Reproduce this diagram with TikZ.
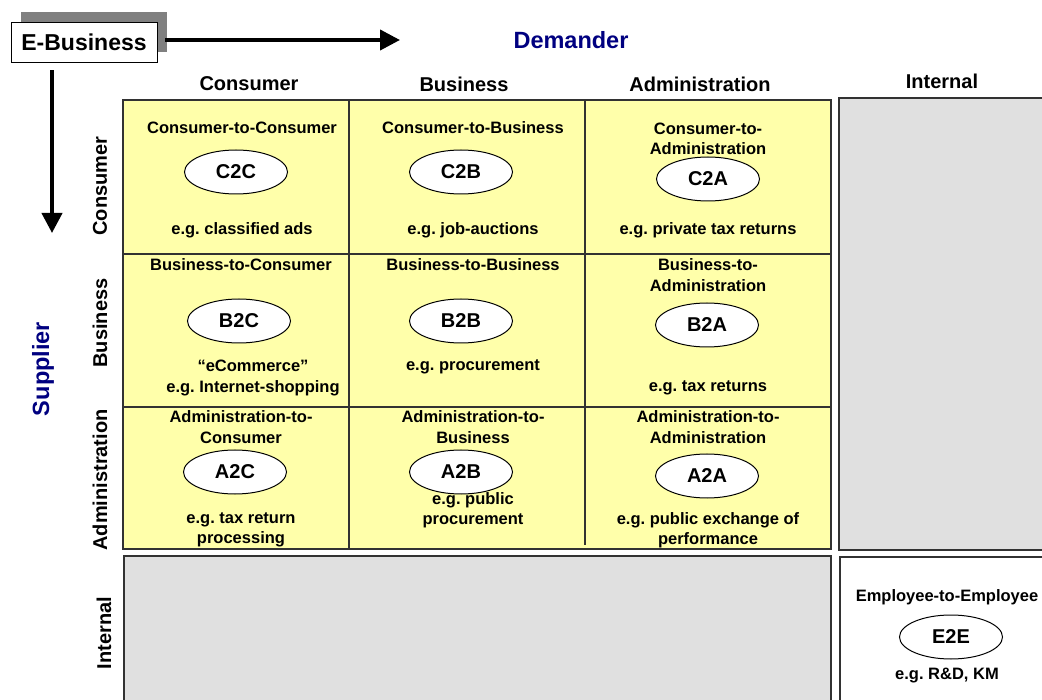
\documentclass[tikz,border=0pt]{standalone}
\usepackage{fontspec}
\setmainfont{Liberation Sans}
\usetikzlibrary{arrows.meta,positioning,shapes.geometric}
\definecolor{cellyellow}{RGB}{255,255,170}
\definecolor{panelgray}{RGB}{224,224,224}
\definecolor{shadowgray}{RGB}{128,128,128}
\definecolor{navy}{RGB}{0,0,128}
\definecolor{rule}{RGB}{50,50,50}
\frenchspacing

\begin{document}
\begin{tikzpicture}[>={Triangle[length=20pt,width=20pt]},x=1pt,y=-1pt,
  hdr/.style={font=\fontsize{20}{24}\selectfont\bfseries,inner sep=0pt},
  axis/.style={font=\fontsize{23.5}{28}\selectfont\bfseries,text=navy,inner sep=0pt},
  ttl/.style={font=\fontsize{16.5}{20.5}\selectfont\bfseries,align=center,inner sep=0pt},
  abbr/.style={draw,line width=1pt,ellipse,fill=white,minimum width=103pt,
               minimum height=44pt,inner sep=0pt,font=\fontsize{20}{24}\selectfont\bfseries},
  grd/.style={draw=rule,line width=1.3pt},
  pnl/.style={grd,fill=panelgray}]
\useasboundingbox (0,0) rectangle (1042,700);
\clip (0,0) rectangle (1042,700);
% title box and the two axes
\fill[shadowgray] (21,12) rectangle (167,52);
\node[draw,fill=white,minimum width=146pt,minimum height=40pt,inner sep=0pt,
      font=\fontsize{23}{27}\selectfont\bfseries] (eb) at (84,42) {E-Business};
\coordinate (dmd) at (400,40);
\coordinate (sup) at (52,233);
\draw[->,line width=4pt] ([xshift=8pt]eb.east |- dmd) -- (dmd);
\draw[->,line width=4pt] ([yshift=-8pt]eb.south -| sup) -- (sup);
\node[axis] (demander) at (571,40) {Demander};
\node[axis,rotate=90] (supplier) at (43,369) {Supplier};
% column heads
\node[hdr] (hC) at (249,84) {Consumer};
\node[hdr] (hB) at (464,84) {Business};
\node[hdr] (hA) at (700,84) {Administration};
\node[hdr] (hI) at (942,81) {Internal};
% row heads
\node[hdr,rotate=90] (vC) at (100,186) {Consumer};
\node[hdr,rotate=90] (vB) at (100,323) {Business};
\node[hdr,rotate=90] (vA) at (100,480) {Administration};
\node[hdr,rotate=90] (vI) at (104,633) {Internal};
% yellow matrix and grey panels
\fill[cellyellow] (123,100) rectangle (831,549);
\draw[grd] (349,100) -- (349,549);
\draw[grd] (585,100) -- (585,545);
\draw[grd] (123,254) -- (831,254);
\draw[grd] (123,407) -- (831,407);
\draw[grd] (123,100) rectangle (831,549);
\draw[pnl] (839,98) rectangle (1060,550);
\draw[pnl] (124,556) rectangle (831,720);
\draw[grd,fill=white] (840,557) rectangle (1060,720);
% consumer row
\node[ttl] (c2c-t) at (242,128) {Consumer-to-Consumer};
\node[abbr] (c2c) at (236,172) {C2C};
\node[ttl] (c2c-e) at (242,230) {e.g. classified ads};
\node[ttl] (c2b-t) at (473,128) {Consumer-to-Business};
\node[abbr] (c2b) at (461,172) {C2B};
\node[ttl] (c2b-e) at (473,230) {e.g. job-auctions};
\node[ttl] (c2a-t) at (708,139) {Consumer-to-\\Administration};
\node[abbr] (c2a) at (708,179) {C2A};
\node[ttl] (c2a-e) at (708,230) {e.g. private tax returns};
% business row
\node[ttl] (b2c-t) at (241,265) {Business-to-Consumer};
\node[abbr] (b2c) at (239,321) {B2C};
\node[ttl] (b2c-e) at (253,378) {“eCommerce”\\e.g. Internet-shopping};
\node[ttl] (b2b-t) at (473,265) {Business-to-Business};
\node[abbr] (b2b) at (461,321) {B2B};
\node[ttl] (b2b-e) at (473,367) {e.g. procurement};
\node[ttl] (b2a-t) at (708,275) {Business-to-\\Administration};
\node[abbr] (b2a) at (707,325) {B2A};
\node[ttl] (b2a-e) at (708,388) {e.g. tax returns};
% administration row
\node[ttl] (a2c-t) at (241,427) {Administration-to-\\Consumer};
\node[abbr] (a2c) at (235,472) {A2C};
\node[ttl] (a2c-e) at (241,530) {e.g. tax return\\processing};
\node[ttl] (a2b-t) at (473,427) {Administration-to-\\Business};
\node[abbr] (a2b) at (461,472) {A2B};
\node[ttl] (a2b-e) at (473,510) {e.g. public\\procurement};
\node[ttl] (a2a-t) at (708,427) {Administration-to-\\Administration};
\node[abbr] (a2a) at (707,476) {A2A};
\node[ttl] (a2a-e) at (708,530) {e.g. public exchange of\\performance};
% internal
\node[ttl] (e2e-t) at (947,597) {Employee-to-Employee};
\node[abbr] (e2e) at (951,637) {E2E};
\node[ttl] (e2e-e) at (947,676) {e.g. R\&D, KM};
\end{tikzpicture}
\end{document}
